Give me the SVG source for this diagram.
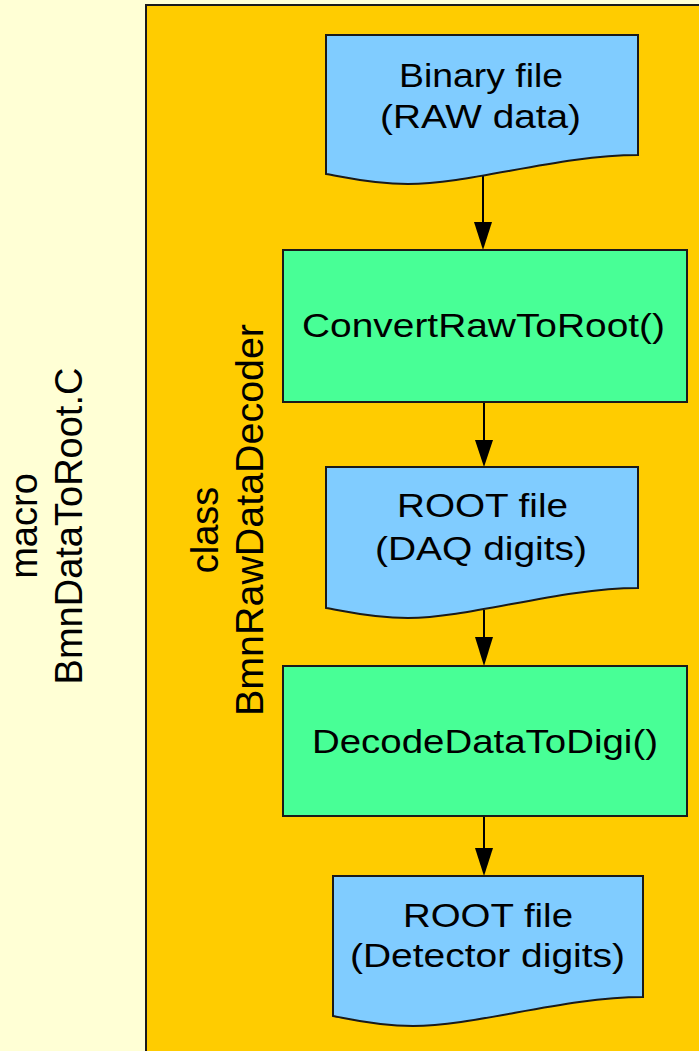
<svg xmlns="http://www.w3.org/2000/svg" width="699" height="1051" viewBox="0 0 699 1051">
<style>
.t{font-family:"Liberation Sans",Arial,sans-serif;font-size:33px;fill:#000;text-anchor:middle}
.r{font-family:"Liberation Sans",Arial,sans-serif;font-size:38px;fill:#000;text-anchor:middle}
.doc{fill:#80CCFF;stroke:#1a1a1a;stroke-width:2}
.proc{fill:#48FF96;stroke:#1a1a1a;stroke-width:2}
.edge{stroke:#000;stroke-width:2;fill:none}
</style>
<rect x="0" y="0" width="699" height="1051" fill="#FFFFD5"/>
<g id="macro">
<text class="r" transform="translate(37,526) rotate(-90)">macro</text>
<text class="r" transform="translate(82,526) rotate(-90)">BmnDataToRoot.C</text>
</g>
<g id="class">
<rect x="146" y="5" width="560" height="1060" fill="#FFCC00" stroke="#1a1a1a" stroke-width="2"/>
<text class="r" transform="translate(218,530) rotate(-90)">class</text>
<text class="r" transform="translate(263,520) rotate(-90)" textLength="392" lengthAdjust="spacingAndGlyphs">BmnRawDataDecoder</text>
</g>
<g id="connectors">
<path class="edge" d="M483,176 V222" />
<path d="M474,222 L492,222 L483,250 Z" fill="#000"/>
<path class="edge" d="M484,402 V440" />
<path d="M475,440 L493,440 L484,467 Z" fill="#000"/>
<path class="edge" d="M484,610 V637" />
<path d="M475,637 L493,637 L484,666 Z" fill="#000"/>
<path class="edge" d="M484,816 V848" />
<path d="M475,848 L493,848 L484,876 Z" fill="#000"/>
</g>
<g id="binary">
<path class="doc" d="M326,35 H638 V155 C560,155 470,184 408,184 C370,184 340,176 326,174 Z"/>
<text class="t" x="481" y="87" textLength="164" lengthAdjust="spacingAndGlyphs">Binary file</text>
<text class="t" x="480.5" y="128" textLength="201" lengthAdjust="spacingAndGlyphs">(RAW data)</text>
</g>
<g id="convert">
<rect class="proc" x="283" y="250" width="404" height="152"/>
<text class="t" x="483.5" y="337" textLength="363" lengthAdjust="spacingAndGlyphs">ConvertRawToRoot()</text>
</g>
<g id="rootdaq">
<path class="doc" d="M326,467 H638 V588 C560,588 470,618 408,618 C370,618 340,610 326,608 Z"/>
<text class="t" x="482.5" y="517" textLength="171" lengthAdjust="spacingAndGlyphs">ROOT file</text>
<text class="t" x="481" y="560" textLength="212" lengthAdjust="spacingAndGlyphs">(DAQ digits)</text>
</g>
<g id="decode">
<rect class="proc" x="283" y="666" width="404" height="150"/>
<text class="t" x="485" y="753" textLength="346" lengthAdjust="spacingAndGlyphs">DecodeDataToDigi()</text>
</g>
<g id="rootdet">
<path class="doc" d="M333,876 H643 V997 C565,997 475,1026 413,1026 C375,1026 345,1018 333,1016 Z"/>
<text class="t" x="488" y="927" textLength="170" lengthAdjust="spacingAndGlyphs">ROOT file</text>
<text class="t" x="487.5" y="967" textLength="275" lengthAdjust="spacingAndGlyphs">(Detector digits)</text>
</g>
</svg>
